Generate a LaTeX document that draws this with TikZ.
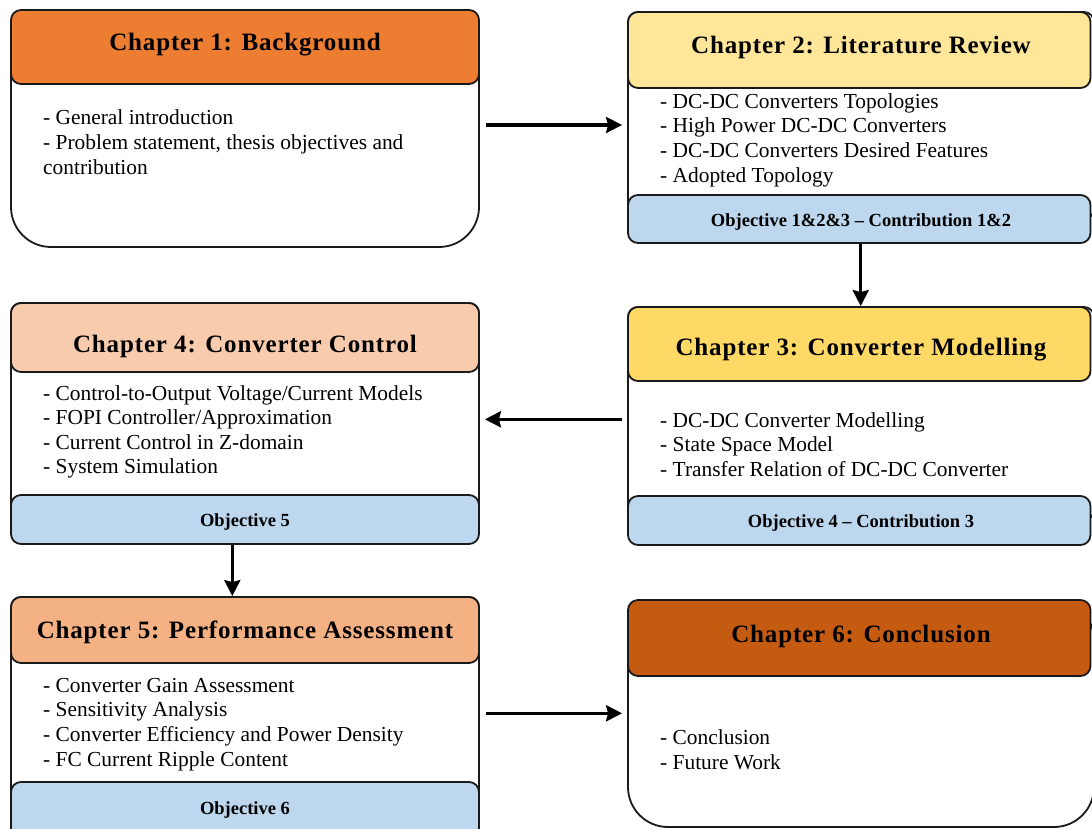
\documentclass[tikz,border=0pt]{standalone}
\usepackage{fontspec}
\setmainfont{Liberation Serif}
\newfontfamily\headfont[LetterSpace=3.4]{Liberation Serif}
\usetikzlibrary{arrows.meta}

\definecolor{chone}{HTML}{ED7D31}
\definecolor{chtwo}{HTML}{FFE699}
\definecolor{chthree}{HTML}{FFD966}
\definecolor{chfour}{HTML}{F8CBAD}
\definecolor{chfive}{HTML}{F4B183}
\definecolor{chsix}{HTML}{C55A11}
\definecolor{objblue}{HTML}{BDD7EE}
\definecolor{edge}{HTML}{1A1A1A}

\begin{document}
\begin{tikzpicture}[x=1pt,y=-1pt,
  frame/.style={draw=edge, line width=1.8pt, fill=white, rectangle, inner sep=0pt, rounded corners=10pt},
  headbox/.style={draw=edge, line width=1.8pt, rectangle, rounded corners=10pt, inner sep=0pt},
  objbox/.style={draw=edge, line width=1.8pt, fill=objblue, rectangle, rounded corners=10pt, inner sep=0pt},
  headtext/.style={anchor=base, inner sep=0pt, text=black, font=\headfont\bfseries\fontsize{25}{29}\selectfont},
  % anchor base west of a multi-line node sits on the baseline of its last line
  bodytext/.style={anchor=base west, align=left, inner sep=0pt, text=black, font=\fontsize{21.4}{24.6}\selectfont},
  objtext/.style={anchor=base, inner sep=0pt, text=black, font=\bfseries\fontsize{18.5}{22}\selectfont},
  arr/.style={draw=black, line width=3.3pt, -{Stealth[length=16pt,width=16pt,inset=2pt]}}
]
\useasboundingbox (0,0) rectangle (1092,828);
\clip (0,0) rectangle (1092,828);

% Chapter 1
\node[frame, rounded corners=40pt, minimum width=468pt, minimum height=237pt] (box1) at (245,128.5) {};
\node[headbox, fill=chone, minimum width=468pt, minimum height=74pt] (head1) at (245,47) {};
\node[headtext] (h1) at (245,50) {Chapter 1: Background};
\node[bodytext] (t1) at (43,174) {- General introduction\\- Problem statement, thesis objectives and\\contribution};

% Chapter 2
\node[frame, minimum width=466pt, minimum height=207pt] (box2) at (861,115.5) {};
\node[headbox, fill=chtwo, minimum width=462.5pt, minimum height=76pt] (head2) at (859.25,50) {};
\node[objbox, minimum width=462.5pt, minimum height=48pt] (obj2) at (859.25,219) {};
\node[headtext] (h2) at (861,53) {Chapter 2: Literature Review};
\node[bodytext] (t2) at (660,182) {- DC-DC Converters Topologies\\- High Power DC-DC Converters\\- DC-DC Converters Desired Features\\- Adopted Topology};
\node[objtext] (o2) at (861,226.5) {Objective 1\&2\&3 -- Contribution 1\&2};

% Chapter 3
\node[frame, minimum width=466pt, minimum height=213pt] (box3) at (861,413.5) {};
\node[headbox, fill=chthree, minimum width=462.5pt, minimum height=74pt] (head3) at (859.25,344) {};
\node[objbox, minimum width=462.5pt, minimum height=49pt] (obj3) at (859.25,520.5) {};
\node[headtext] (h3) at (861,355) {Chapter 3: Converter Modelling};
\node[bodytext] (t3) at (660,476.2) {- DC-DC Converter Modelling\\- State Space Model\\- Transfer Relation of DC-DC Converter};
\node[objtext] (o3) at (861,527) {Objective 4 -- Contribution 3};

% Chapter 4
\node[frame, minimum width=468pt, minimum height=216pt] (box4) at (245,411) {};
\node[headbox, fill=chfour, minimum width=468pt, minimum height=69pt] (head4) at (245,337.5) {};
\node[objbox, minimum width=468pt, minimum height=49pt] (obj4) at (245,519.5) {};
\node[headtext] (h4) at (245,352) {Chapter 4: Converter Control};
\node[bodytext] (t4) at (43,473.8) {- Control-to-Output Voltage/Current Models\\- FOPI Controller/Approximation\\- Current Control in Z-domain\\- System Simulation};
\node[objtext] (o4) at (245,526) {Objective 5};

% Chapter 5
\node[frame, minimum width=468pt, minimum height=248pt] (box5) at (245,721) {};
\node[headbox, fill=chfive, minimum width=468pt, minimum height=66pt] (head5) at (245,630) {};
\node[objbox, minimum width=468pt, minimum height=63pt] (obj5) at (245,813.5) {};
\node[headtext] (h5) at (245,638) {Chapter 5: Performance Assessment};
\node[bodytext] (t5) at (43,766) {- Converter Gain Assessment\\- Sensitivity Analysis\\- Converter Efficiency and Power Density\\- FC Current Ripple Content};
\node[objtext] (o5) at (245,814) {Objective 6};

% Chapter 6
\node[frame, rounded corners=40pt, minimum width=466pt, minimum height=227pt] (box6) at (861,713.5) {};
\node[headbox, fill=chsix, minimum width=462.5pt, minimum height=76pt] (head6) at (859.25,638) {};
\node[headtext] (h6) at (861,642) {Chapter 6: Conclusion};
\node[bodytext] (t6) at (660,769.3) {- Conclusion\\- Future Work};

% Flow between chapters
\coordinate (y12) at (0,125);
\coordinate (x23) at (860.7,0);
\coordinate (y34) at (0,419.3);
\coordinate (x45) at (232.3,0);
\coordinate (y56) at (0,713.3);

\draw[arr] ([xshift=6pt]box1.east |- y12) -- ([xshift=-5pt]box2.west |- y12);
\draw[arr] (obj2.south -| x23) -- (box3.north -| x23);
\draw[arr] ([xshift=-5pt]box3.west |- y34) -- ([xshift=5pt]box4.east |- y34);
\draw[arr] (obj4.south -| x45) -- (box5.north -| x45);
\draw[arr] ([xshift=6pt]box5.east |- y56) -- ([xshift=-5pt]box6.west |- y56);
\end{tikzpicture}
\end{document}
